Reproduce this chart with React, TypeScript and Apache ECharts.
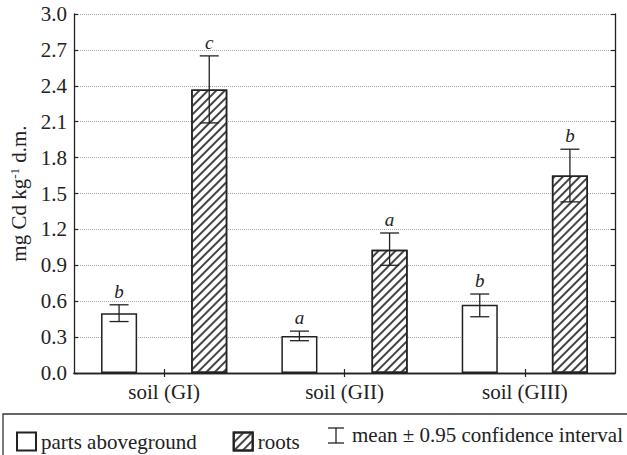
import React, { useEffect, useRef } from "react";
import * as echarts from "echarts";

const categories = ["soil (GI)", "soil (GII)", "soil (GIII)"];
const aboveMean = [0.5, 0.31, 0.57];
const aboveLow = [0.43, 0.27, 0.47];
const aboveHigh = [0.57, 0.35, 0.66];
const aboveLetters = ["b", "a", "b"];
const rootsMean = [2.37, 1.03, 1.65];
const rootsLow = [2.09, 0.9, 1.43];
const rootsHigh = [2.65, 1.17, 1.87];
const rootsLetters = ["c", "a", "b"];
const yTicks = { min: 0, max: 3, interval: 0.3 };

const FONT = '"Liberation Serif", "Times New Roman", serif';
const INK = "#222";

function errorSeries(low: number[], high: number[], letters: string[], offset: number) {
  return {
    type: "custom",
    xAxisIndex: 0,
    yAxisIndex: 0,
    z: 10,
    silent: true,
    data: categories.map((_, i) => [i, low[i], high[i]]),
    renderItem: (params: any, api: any) => {
      const i = api.value(0);
      const lo = api.coord([i, api.value(1)]);
      const hi = api.coord([i, api.value(2)]);
      const band = api.size([1, 0])[0];
      const cx = lo[0] + offset * band;
      const half = 9.5;
      const st = { stroke: INK, lineWidth: 1.3 };
      return {
        type: "group",
        children: [
          { type: "line", shape: { x1: cx, y1: lo[1], x2: cx, y2: hi[1] }, style: st },
          { type: "line", shape: { x1: cx - half, y1: lo[1], x2: cx + half, y2: lo[1] }, style: st },
          { type: "line", shape: { x1: cx - half, y1: hi[1], x2: cx + half, y2: hi[1] }, style: st },
          {
            type: "text",
            style: {
              text: letters[params.dataIndex],
              x: cx,
              y: hi[1] - 4,
              align: "center",
              verticalAlign: "bottom",
              font: `italic 19px ${FONT}`,
              fill: INK,
            },
          },
        ],
      };
    },
  };
}

export default function App() {
  const ref = useRef<HTMLDivElement>(null);
  useEffect(() => {
    if (!ref.current) return;
    const chart = echarts.init(ref.current, null, { renderer: "svg" });
    const axisLine = { show: true, lineStyle: { color: INK, width: 1.3 } };
    const tick = { show: true, inside: true, length: 4, lineStyle: { color: INK, width: 1.2 } };
    chart.setOption({
      animation: false,
      backgroundColor: "#fff",
      grid: { left: 74, right: 12, top: 14, bottom: 82 },
      legend: {
        left: 11,
        top: 426,
        itemWidth: 19,
        itemHeight: 18,
        itemGap: 36,
        icon: "rect",
        selectedMode: false,
        data: ["parts aboveground", "roots"],
        textStyle: { fontFamily: FONT, fontSize: 21, color: INK },
      },
      xAxis: [
        {
          type: "category",
          data: categories,
          position: "bottom",
          axisLine,
          axisTick: { ...tick, alignWithLabel: true },
          axisLabel: { fontFamily: FONT, fontSize: 21, color: INK, margin: 8 },
        },
        {
          type: "category",
          data: categories,
          position: "top",
          axisLine,
          axisTick: { ...tick, alignWithLabel: true },
          axisLabel: { show: false },
        },
      ],
      yAxis: [
        {
          type: "value",
          position: "left",
          ...yTicks,
          axisLine,
          axisTick: tick,
          axisLabel: {
            fontFamily: FONT,
            fontSize: 21,
            color: INK,
            margin: 7,
            formatter: (v: number) => v.toFixed(1),
          },
          splitLine: { show: true, lineStyle: { color: "#aaa", type: "dotted", width: 1 } },
          name: "{n|mg Cd kg}{sup|-1}{n| d.m.}",
          nameLocation: "middle",
          nameGap: 38,
          nameTextStyle: {
            rich: {
              n: { fontFamily: FONT, fontSize: 21, color: INK, lineHeight: 22 },
              sup: { fontFamily: FONT, fontSize: 13, color: INK, verticalAlign: "top", lineHeight: 13 },
            },
          },
        },
        {
          type: "value",
          position: "right",
          ...yTicks,
          axisLine,
          axisTick: tick,
          axisLabel: { show: false },
          splitLine: { show: false },
        },
      ],
      series: [
        {
          name: "parts aboveground",
          type: "bar",
          data: aboveMean,
          barWidth: "20%",
          barGap: "150%",
          itemStyle: { color: "#fff", borderColor: INK, borderWidth: 1.5 },
        },
        {
          name: "roots",
          type: "bar",
          data: rootsMean,
          barWidth: "20%",
          barGap: "150%",
          itemStyle: {
            color: "#fff",
            borderColor: INK,
            borderWidth: 1.5,
            decal: {
              symbol: "rect",
              symbolSize: 1,
              color: "#444",
              backgroundColor: "#fff",
              dashArrayX: [1, 0],
              dashArrayY: [1.1, 3.3],
              rotation: -Math.PI / 4,
            },
          },
        },
        errorSeries(aboveLow, aboveHigh, aboveLetters, -0.25),
        errorSeries(rootsLow, rootsHigh, rootsLetters, 0.25),
      ],
      graphic: [
        {
          type: "rect",
          shape: { x: 3, y: 414, width: 700, height: 100 },
          style: { fill: "none", stroke: "#333", lineWidth: 1.3 },
          silent: true,
        },
        {
          type: "line",
          shape: { x1: 336, y1: 428, x2: 336, y2: 443 },
          style: { stroke: INK, lineWidth: 1.3 },
        },
        {
          type: "line",
          shape: { x1: 328, y1: 428, x2: 344, y2: 428 },
          style: { stroke: INK, lineWidth: 1.3 },
        },
        {
          type: "line",
          shape: { x1: 328, y1: 443, x2: 344, y2: 443 },
          style: { stroke: INK, lineWidth: 1.3 },
        },
        {
          type: "text",
          style: {
            text: "mean ± 0.95 confidence interval",
            x: 352,
            y: 435,
            verticalAlign: "middle",
            font: `21px ${FONT}`,
            fill: INK,
          },
        },
      ],
    });
    return () => chart.dispose();
  }, []);
  return (
    <div
      ref={ref}
      style={{ position: "absolute", left: 0, top: 0, width: 627, height: 455 }}
    />
  );
}
